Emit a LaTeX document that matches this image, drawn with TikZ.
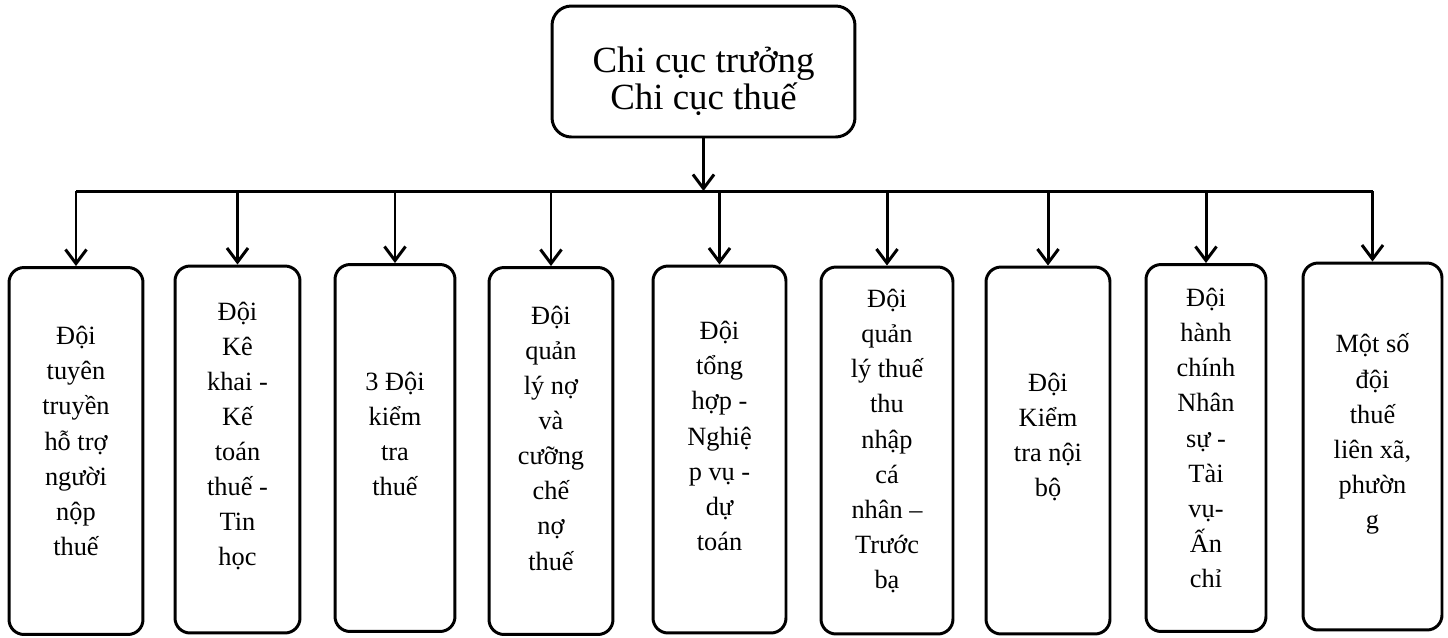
\documentclass[tikz,border=0pt]{standalone}
\usepackage{fontspec}
\setmainfont{Liberation Serif}
\usetikzlibrary{arrows.meta}

\begin{document}
\begin{tikzpicture}[x=0.02cm,y=-0.02cm,line width=1.7pt,
  arr/.style={-{Straight Barb[length=8pt,width=12pt,line width=1.7pt]}},
  chief/.style={draw,rounded corners=11pt,minimum width=6.06cm,minimum height=2.62cm},
  chieftxt/.style={align=center,font=\fontsize{21}{21}\selectfont},
  team/.style={draw,rounded corners=8.5pt,minimum height=7.34cm},
  teamtxt/.style={align=center,font=\fontsize{15}{20}\selectfont}]

\useasboundingbox (0,0) rectangle (1448,637);

%====================================================
% Head of the branch
%====================================================
\node[chief] (boss) at (703.5,71.5) {};
\node[chieftxt] (bosst) at (703.5,81.5) {Chi cục trưởng\\Chi cục thuế};

\coordinate (bus) at (703.5,191);

%====================================================
% Teams
%====================================================
% Team 1
\node[team,minimum width=2.68cm] (d1) at (76,451) {};
\node[teamtxt] (t1) at (76,441)
{Đội\\tuyên\\truyền\\hỗ trợ\\người\\nộp\\thuế};

% Team 2
\node[team,minimum width=2.50cm] (d2) at (237.5,449.5) {};
\node[teamtxt] (t2) at (237.5,436)
{Đội\\Kê\\khai -\\Kế\\toán\\thuế -\\Tin\\học};

% Team 3
\node[team,minimum width=2.40cm] (d3) at (395,448) {};
\node[teamtxt] (t3) at (395,434)
{3 Đội\\kiểm\\tra\\thuế};

% Team 4
\node[team,minimum width=2.48cm] (d4) at (551,451) {};
\node[teamtxt] (t4) at (551,438)
{Đội\\quản\\lý nợ\\và\\cưỡng\\chế\\nợ\\thuế};

% Team 5
\node[team,minimum width=2.66cm] (d5) at (719.5,449.5) {};
\node[teamtxt] (t5) at (719.5,436)
{Đội\\tổng\\hợp -\\Nghiệ\\p vụ -\\dự\\toán};

% Team 6
\node[team,minimum width=2.64cm] (d6) at (887,450.5) {};
\node[teamtxt] (t6) at (887,441)
{Đội\\quản\\lý thuế\\thu\\nhập\\cá\\nhân –\\Trước\\bạ};

% Team 7
\node[team,minimum width=2.48cm] (d7) at (1048,450.5) {};
\node[teamtxt] (t7) at (1048,437)
{Đội\\Kiểm\\tra nội\\bộ};

% Team 8
\node[team,minimum width=2.40cm] (d8) at (1206,448) {};
\node[teamtxt] (t8) at (1206,438)
{Đội\\hành\\chính\\Nhân\\sự -\\Tài\\vụ-\\Ấn\\chỉ};

% Team 9
\node[team,minimum width=2.78cm] (d9) at (1372.5,446.5) {};
\node[teamtxt] (t9) at (1372.5,434)
{Một số\\đội\\thuế\\liên xã,\\phườn\\g};

%====================================================
% Arrows
%====================================================
% Head -> bus
\draw[arr] (boss.south) -- (bus);

% Bus
\draw (d1.north |- bus) -- (d9.north |- bus);

% Bus -> teams
\draw[arr] (d1.north |- bus) -- (d1.north);
\draw[arr] (d2.north |- bus) -- (d2.north);
\draw[arr] (d3.north |- bus) -- (d3.north);
\draw[arr] (d4.north |- bus) -- (d4.north);
\draw[arr] (d5.north |- bus) -- (d5.north);
\draw[arr] (d6.north |- bus) -- (d6.north);
\draw[arr] (d7.north |- bus) -- (d7.north);
\draw[arr] (d8.north |- bus) -- (d8.north);
\draw[arr] (d9.north |- bus) -- (d9.north);

\end{tikzpicture}
\end{document}
